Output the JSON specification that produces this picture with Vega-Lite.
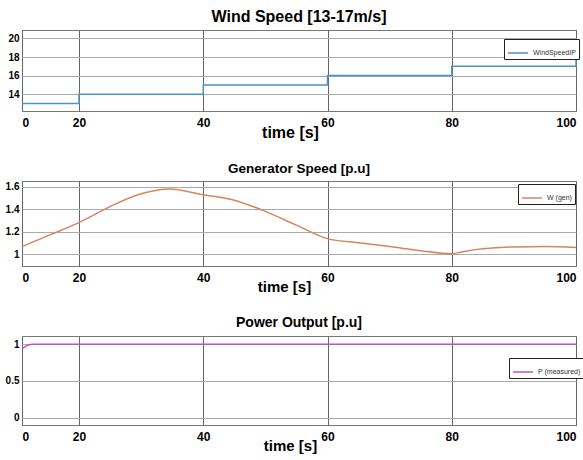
{
  "$schema": "https://vega.github.io/schema/vega-lite/v6.json",
  "background": "white",
  "padding": {"left": 4, "top": 8, "right": 5, "bottom": 0},
  "spacing": 20,
  "datasets": {
    "wind": [
      {"t": 0, "v": 13, "s": "WindSpeedIP"},
      {"t": 20, "v": 14, "s": "WindSpeedIP"},
      {"t": 40, "v": 15, "s": "WindSpeedIP"},
      {"t": 60, "v": 16, "s": "WindSpeedIP"},
      {"t": 80, "v": 17, "s": "WindSpeedIP"},
      {"t": 100, "v": 18, "s": "WindSpeedIP"}
    ],
    "gen": [
      {"t": 0, "v": 1.066, "s": "W (gen)"},
      {"t": 10, "v": 1.173, "s": "W (gen)"},
      {"t": 20, "v": 1.28, "s": "W (gen)"},
      {"t": 25, "v": 1.423, "s": "W (gen)"},
      {"t": 30, "v": 1.537, "s": "W (gen)"},
      {"t": 34.5, "v": 1.58, "s": "W (gen)"},
      {"t": 40, "v": 1.529, "s": "W (gen)"},
      {"t": 45, "v": 1.48, "s": "W (gen)"},
      {"t": 50, "v": 1.38, "s": "W (gen)"},
      {"t": 55, "v": 1.257, "s": "W (gen)"},
      {"t": 60, "v": 1.137, "s": "W (gen)"},
      {"t": 65, "v": 1.1, "s": "W (gen)"},
      {"t": 70, "v": 1.066, "s": "W (gen)"},
      {"t": 75, "v": 1.03, "s": "W (gen)"},
      {"t": 80, "v": 1.003, "s": "W (gen)"},
      {"t": 82, "v": 1.023, "s": "W (gen)"},
      {"t": 85, "v": 1.046, "s": "W (gen)"},
      {"t": 90, "v": 1.063, "s": "W (gen)"},
      {"t": 95, "v": 1.066, "s": "W (gen)"},
      {"t": 100, "v": 1.057, "s": "W (gen)"}
    ],
    "power": [
      {"t": 0, "v": 0.94, "s": "P (measured)"},
      {"t": 1, "v": 0.965, "s": "P (measured)"},
      {"t": 2, "v": 0.985, "s": "P (measured)"},
      {"t": 3, "v": 0.997, "s": "P (measured)"},
      {"t": 4, "v": 1.0, "s": "P (measured)"},
      {"t": 100, "v": 1.0, "s": "P (measured)"}
    ]
  },
  "config": {
    "view": {"stroke": "#777", "strokeWidth": 1},
    "axis": {
      "labelFont": "Liberation Sans",
      "labelFontWeight": "bold",
      "labelColor": "#000",
      "domain": false,
      "ticks": false,
      "gridColor": "#aaa",
      "gridWidth": 1,
      "titleFont": "Liberation Sans",
      "titleFontWeight": "bold",
      "titleColor": "#000"
    },
    "axisX": {"gridColor": "#666", "labelFontSize": 12, "labelPadding": 6, "titleFontSize": 15, "titlePadding": -4, "labelOverlap": false},
    "axisY": {"labelFontSize": 10, "labelPadding": 3, "title": null},
    "title": {"font": "Liberation Sans", "fontWeight": "bold", "color": "#000", "anchor": "middle"},
    "legend": {
      "symbolType": "stroke",
      "symbolSize": 400,
      "symbolStrokeWidth": 1.5,
      "labelFontSize": 7,
      "labelFont": "Liberation Sans",
      "labelColor": "#333",
      "strokeColor": "#222",
      "fillColor": "white",
      "padding": 3,
      "rowPadding": 0,
      "orient": "none",
      "title": null
    }
  },
  "resolve": {"scale": {"color": "independent", "x": "independent", "y": "independent"}, "legend": {"color": "independent"}},
  "vconcat": [
    {
      "width": 554,
      "height": 81,
      "title": {"text": "Wind Speed [13-17m/s]", "fontSize": 16, "offset": 5},
      "data": {"name": "wind"},
      "mark": {"type": "line", "interpolate": "step-after", "strokeWidth": 1.5},
      "encoding": {
        "x": {"field": "t", "type": "quantitative", "scale": {"domain": [0, 20, 100], "range": [0, 57, 554], "nice": false}, "axis": {"values": [0, 20, 40, 60, 80, 100], "title": "time [s]", "titleX": 268, "titleFontSize": 16}},
        "y": {"field": "v", "type": "quantitative", "scale": {"domain": [12.2, 20.9], "nice": false, "zero": false}, "axis": {"values": [14, 16, 18, 20]}},
        "color": {"field": "s", "type": "nominal", "scale": {"domain": ["WindSpeedIP"], "range": ["#4a93c6"]}, "legend": {"legendX": 482, "legendY": 9}}
      }
    },
    {
      "width": 554,
      "height": 85,
      "title": {"text": "Generator Speed [p.u]", "fontSize": 13.5, "offset": 6},
      "data": {"name": "gen"},
      "mark": {"type": "line", "interpolate": "monotone", "strokeWidth": 1.5},
      "encoding": {
        "x": {"field": "t", "type": "quantitative", "scale": {"domain": [0, 20, 100], "range": [0, 57, 554], "nice": false}, "axis": {"values": [0, 20, 40, 60, 80, 100], "title": "time [s]", "titleX": 262}},
        "y": {"field": "v", "type": "quantitative", "scale": {"domain": [0.893, 1.651], "nice": false, "zero": false}, "axis": {"values": [1, 1.2, 1.4, 1.6], "format": ".1~f"}},
        "color": {"field": "s", "type": "nominal", "scale": {"domain": ["W (gen)"], "range": ["#d8845e"]}, "legend": {"legendX": 496, "legendY": 3}}
      }
    },
    {
      "width": 554,
      "height": 89,
      "title": {"text": "Power Output [p.u]", "fontSize": 14, "offset": 6},
      "data": {"name": "power"},
      "mark": {"type": "line", "interpolate": "monotone", "strokeWidth": 1.5},
      "encoding": {
        "x": {"field": "t", "type": "quantitative", "scale": {"domain": [0, 20, 100], "range": [0, 57, 554], "nice": false}, "axis": {"values": [0, 20, 40, 60, 80, 100], "title": "time [s]", "titleX": 268}},
        "y": {"field": "v", "type": "quantitative", "scale": {"domain": [-0.1, 1.113], "nice": false, "zero": false}, "axis": {"values": [0, 0.5, 1], "format": ".1~f"}},
        "color": {"field": "s", "type": "nominal", "scale": {"domain": ["P (measured)"], "range": ["#c24fc4"]}, "legend": {"legendX": 487, "legendY": 22}}
      }
    }
  ]
}
